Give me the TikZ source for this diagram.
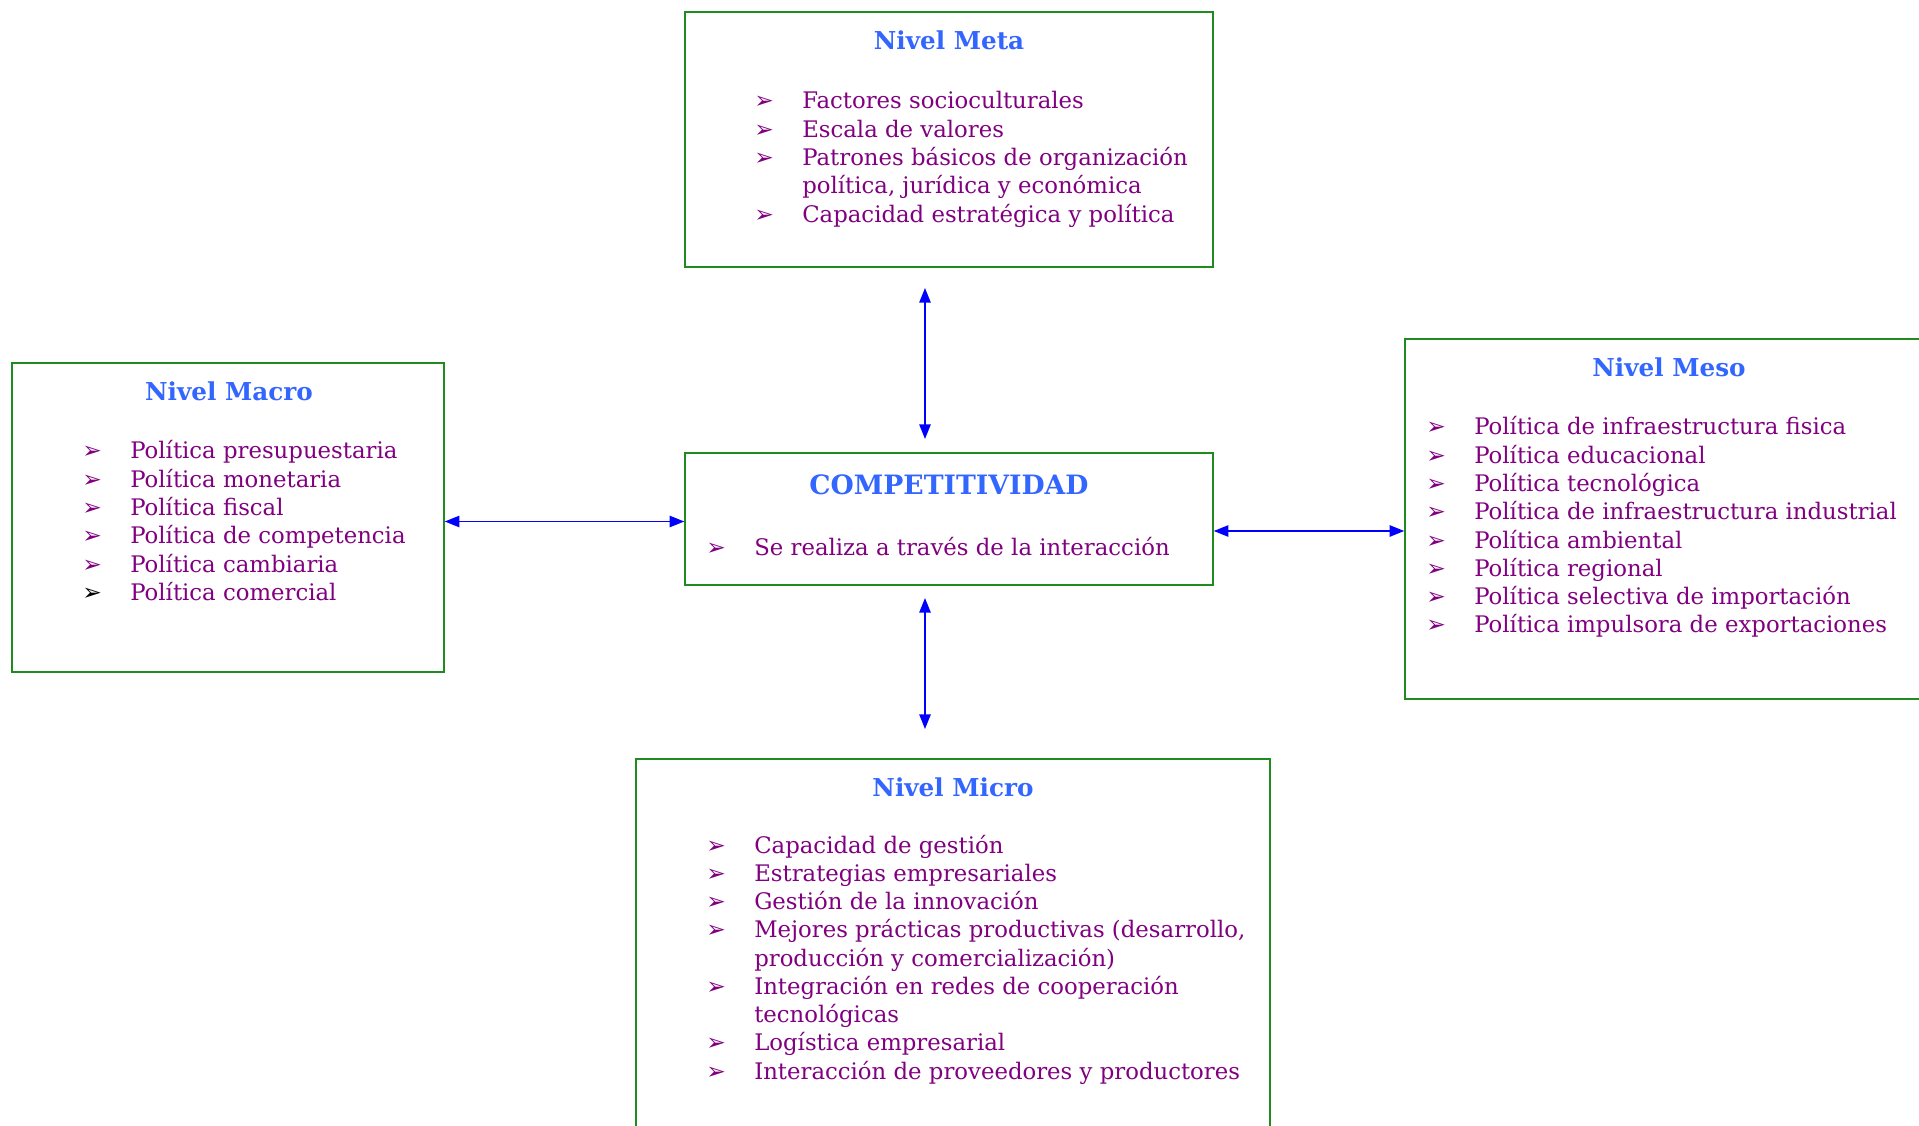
\documentclass[tikz,border=0pt]{standalone}
\usepackage{fontspec}
\setmainfont{DejaVu Serif}
\newfontfamily\bulletfont{DejaVu Sans}
\usetikzlibrary{arrows.meta}
\definecolor{boxgreen}{HTML}{1E8C1E}
\definecolor{titleblue}{HTML}{3366FF}
\definecolor{itempurple}{HTML}{800080}
\definecolor{arrowblue}{HTML}{0000FF}
\newcommand{\bul}[1][itempurple]{\makebox[36pt][l]{\color{#1}\bulletfont\fontsize{17.5}{17}\selectfont ➢}}
\tikzset{
  levelbox/.style={draw=boxgreen, line width=1.1pt, inner sep=0pt},
  leveltitle/.style={text=titleblue, font=\bfseries\fontsize{18.5}{22}\selectfont, anchor=base, inner sep=0pt},
  itemlist/.style={text=itempurple, font=\fontsize{17.1}{21.2}\selectfont, anchor=base west, inner sep=0pt},
  link/.style={draw=arrowblue, line width=1.3pt, {Triangle[length=11pt,width=8.5pt]}-{Triangle[length=11pt,width=8.5pt]}}
}
\begin{document}
\begin{tikzpicture}[x=0.75pt,y=-0.75pt]
  \useasboundingbox (0,0) rectangle (1919,1126);
  % cajas
  \node[levelbox, minimum width=396pt, minimum height=191.25pt] (meta) at (949,139.5) {};
  \node[levelbox, minimum width=396pt, minimum height=99pt] (comp) at (949,519) {};
  \node[levelbox, minimum width=324pt, minimum height=231.75pt] (macro) at (228,517.5) {};
  \node[levelbox, minimum width=397.5pt, minimum height=270pt] (meso) at (1670,519) {};
  \node[levelbox, minimum width=475.5pt, minimum height=285.75pt] (micro) at (953,949.5) {};
  % titulos
  \node[leveltitle] (metatitle) at (949,50) {Nivel Meta};
  \node[leveltitle, font=\bfseries\fontsize{20}{24}\selectfont] (comptitle) at (949,494) {COMPETITIVIDAD};
  \node[leveltitle] (macrotitle) at (229,401) {Nivel Macro};
  \node[leveltitle] (mesotitle) at (1669,377) {Nivel Meso};
  \node[leveltitle] (microtitle) at (953,796) {Nivel Micro};
  % listas
  \node[itemlist] (metalist) at (754,109) {\begin{tabular}[t]{@{}l@{}l@{}}
    \bul & Factores socioculturales\\
    \bul & Escala de valores\\
    \bul & Patrones básicos de organización\\
         & política, jurídica y económica\\
    \bul & Capacidad estratégica y política
  \end{tabular}};
  \node[itemlist] (complist) at (706,555) {\begin{tabular}[t]{@{}l@{}l@{}}
    \bul & Se realiza a través de la interacción
  \end{tabular}};
  \node[itemlist] (macrolist) at (82,459) {\begin{tabular}[t]{@{}l@{}l@{}}
    \bul & Política presupuestaria\\
    \bul & Política monetaria\\
    \bul & Política fiscal\\
    \bul & Política de competencia\\
    \bul & Política cambiaria\\
    \bul[black] & Política comercial
  \end{tabular}};
  \node[itemlist] (mesolist) at (1426,435) {\begin{tabular}[t]{@{}l@{}l@{}}
    \bul & Política de infraestructura fisica\\
    \bul & Política educacional\\
    \bul & Política tecnológica\\
    \bul & Política de infraestructura industrial\\
    \bul & Política ambiental\\
    \bul & Política regional\\
    \bul & Política selectiva de importación\\
    \bul & Política impulsora de exportaciones
  \end{tabular}};
  \node[itemlist] (microlist) at (706,853) {\begin{tabular}[t]{@{}l@{}l@{}}
    \bul & Capacidad de gestión\\
    \bul & Estrategias empresariales\\
    \bul & Gestión de la innovación\\
    \bul & Mejores prácticas productivas (desarrollo,\\
         & producción y comercialización)\\
    \bul & Integración en redes de cooperación\\
         & tecnológicas\\
    \bul & Logística empresarial\\
    \bul & Interacción de proveedores y productores
  \end{tabular}};
  % flechas
  \coordinate (metaend) at (925,288);
  \coordinate (compup) at (925,439);
  \coordinate (compdown) at (925,598);
  \coordinate (microend) at (925,729);
  \begin{scope}[link]
    \draw ([yshift=-3pt]macro.east) to ([yshift=-3pt]macro.east -| comp.west);
    \draw ([yshift=-9pt]comp.east) to ([yshift=-9pt]comp.east -| meso.west);
    \draw (metaend) to (compup);
    \draw (compdown) to (microend);
  \end{scope}
\end{tikzpicture}
\end{document}
